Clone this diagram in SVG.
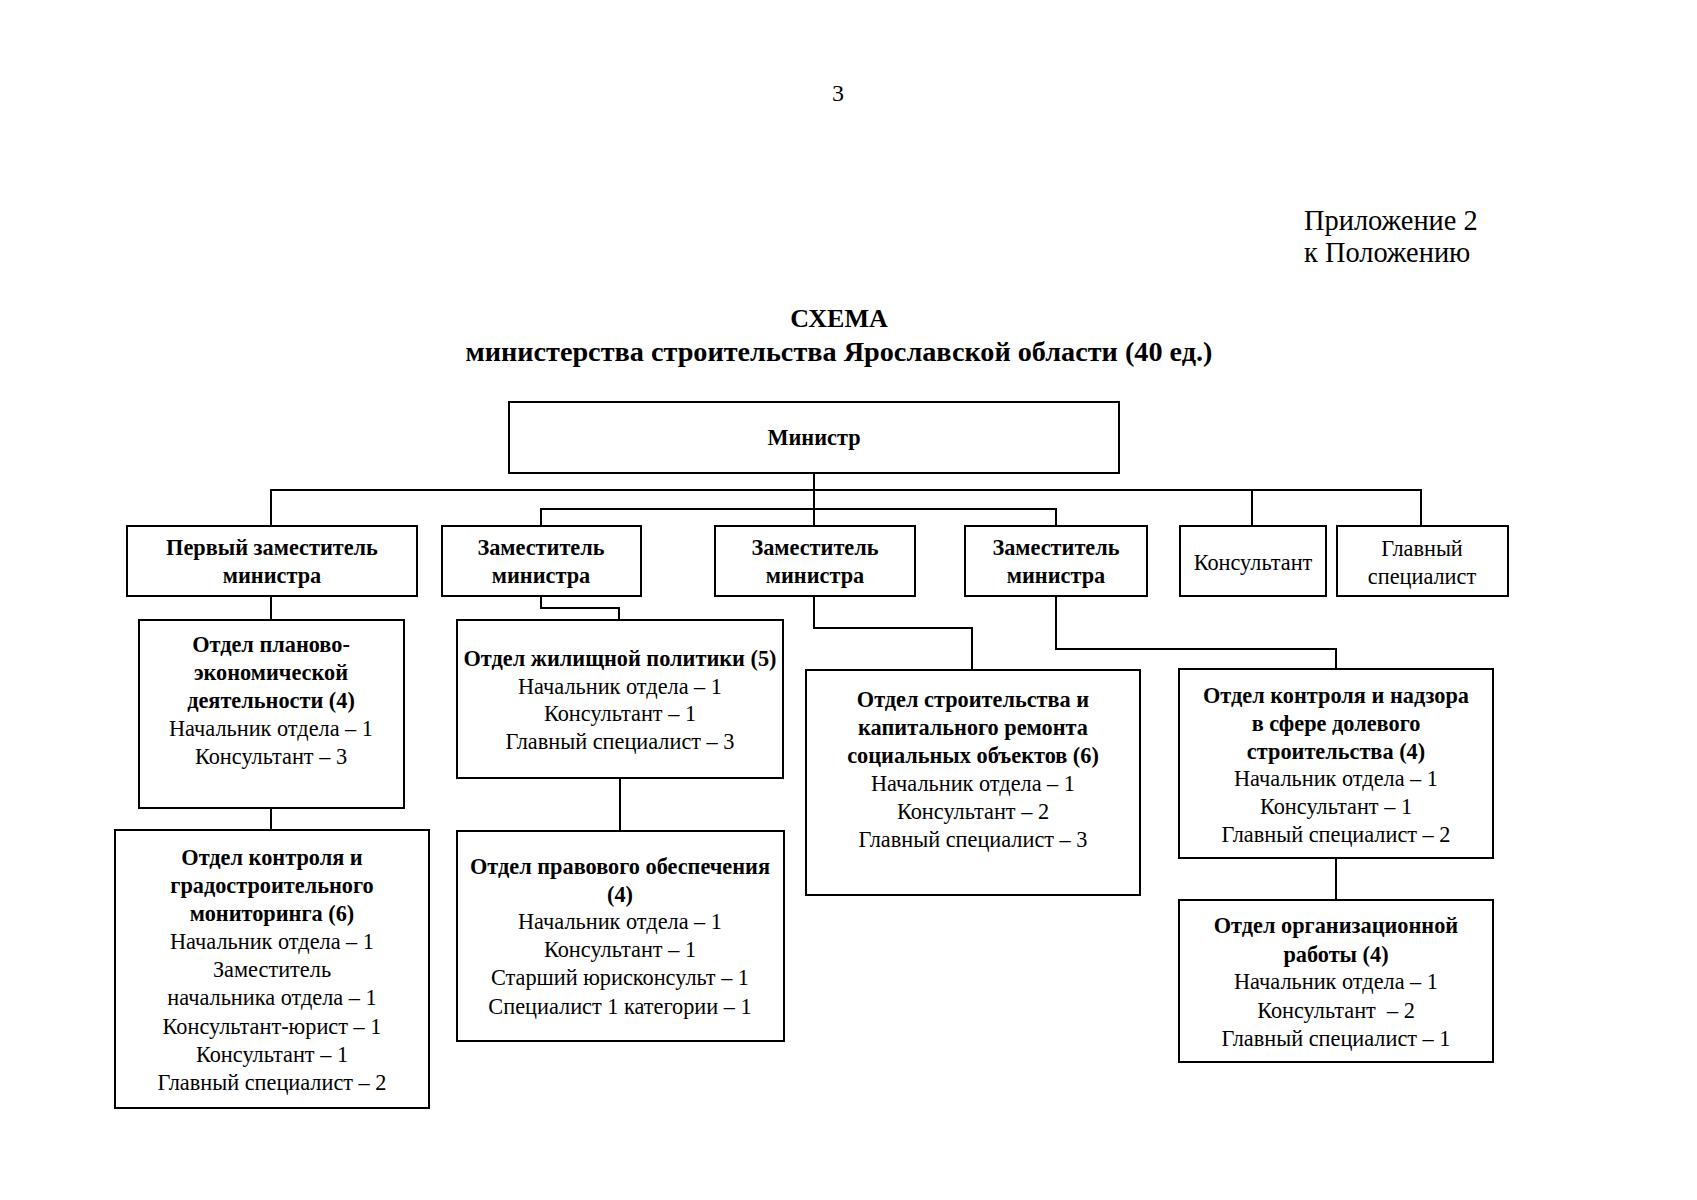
<svg xmlns="http://www.w3.org/2000/svg" width="1697" height="1200" viewBox="0 0 1697 1200">
<style>
text{font-family:"Liberation Serif","Times New Roman",serif;fill:#000;text-anchor:middle}
.b{font-weight:bold;font-size:22.3px}
.n{font-size:22.3px}
.box{fill:#fff;stroke:#000;stroke-width:2}
.ln{fill:none;stroke:#000;stroke-width:2}
</style>
<rect width="1697" height="1200" fill="#fff"/>
<text x="838" y="101" style="font-size:24px">3</text>
<text x="1304" y="230" style="font-size:28.4px;text-anchor:start">Приложение 2</text>
<text x="1304" y="262" style="font-size:28.4px;text-anchor:start">к Положению</text>
<text x="839" y="327" style="font-size:26px;font-weight:bold">СХЕМА</text>
<text x="839" y="361" style="font-size:27.5px;font-weight:bold" textLength="747" lengthAdjust="spacingAndGlyphs">министерства строительства Ярославской области (40 ед.)</text>

<g id="connectors">
<path class="ln" d="M814 473V526"/>
<path class="ln" d="M271 526V490H1421V526"/>
<path class="ln" d="M1252 490V526"/>
<path class="ln" d="M541 526V509H1056V526"/>
<path class="ln" d="M271 596V620"/>
<path class="ln" d="M541 596V608H619V620"/>
<path class="ln" d="M814 596V628H972V670"/>
<path class="ln" d="M1056 596V649H1336V669"/>
<path class="ln" d="M271 808V830"/>
<path class="ln" d="M620 778V831"/>
<path class="ln" d="M1336 858V900"/>
</g>

<g id="minister"><rect class="box" x="509" y="402" width="610" height="71"/><text class="b" x="814" y="445">Министр</text></g>

<g id="first-deputy"><rect class="box" x="127" y="526" width="290" height="70"/><text class="b" x="272" y="555">Первый заместитель</text><text class="b" x="272" y="583">министра</text></g>
<g id="deputy1"><rect class="box" x="442" y="526" width="199" height="70"/><text class="b" x="541" y="555">Заместитель</text><text class="b" x="541" y="583">министра</text></g>
<g id="deputy2"><rect class="box" x="715" y="526" width="200" height="70"/><text class="b" x="815" y="555">Заместитель</text><text class="b" x="815" y="583">министра</text></g>
<g id="deputy3"><rect class="box" x="965" y="526" width="182" height="70"/><text class="b" x="1056" y="555">Заместитель</text><text class="b" x="1056" y="583">министра</text></g>
<g id="consultant"><rect class="box" x="1180" y="526" width="146" height="70"/><text class="n" x="1253" y="570">Консультант</text></g>
<g id="chief-spec"><rect class="box" x="1337" y="526" width="171" height="70"/><text class="n" x="1422" y="556">Главный</text><text class="n" x="1422" y="584">специалист</text></g>

<g id="dept-plan"><rect class="box" x="139" y="620" width="265" height="188"/>
<text class="b" x="271" y="652">Отдел планово-</text>
<text class="b" x="271" y="680">экономической</text>
<text class="b" x="271" y="708">деятельности (4)</text>
<text class="n" x="271" y="736">Начальник отдела – 1</text>
<text class="n" x="271" y="764">Консультант – 3</text></g>

<g id="dept-housing"><rect class="box" x="457" y="620" width="326" height="158"/>
<text class="b" x="620" y="666">Отдел жилищной политики (5)</text>
<text class="n" x="620" y="694">Начальник отдела – 1</text>
<text class="n" x="620" y="721">Консультант – 1</text>
<text class="n" x="620" y="749">Главный специалист – 3</text></g>

<g id="dept-construction"><rect class="box" x="806" y="670" width="334" height="225"/>
<text class="b" x="973" y="707">Отдел строительства и</text>
<text class="b" x="973" y="735">капитального ремонта</text>
<text class="b" x="973" y="763">социальных объектов (6)</text>
<text class="n" x="973" y="791">Начальник отдела – 1</text>
<text class="n" x="973" y="819">Консультант – 2</text>
<text class="n" x="973" y="847">Главный специалист – 3</text></g>

<g id="dept-shared"><rect class="box" x="1179" y="669" width="314" height="189"/>
<text class="b" x="1336" y="703">Отдел контроля и надзора</text>
<text class="b" x="1336" y="731">в сфере долевого</text>
<text class="b" x="1336" y="759">строительства (4)</text>
<text class="n" x="1336" y="786">Начальник отдела – 1</text>
<text class="n" x="1336" y="814">Консультант – 1</text>
<text class="n" x="1336" y="842">Главный специалист – 2</text></g>

<g id="dept-urban"><rect class="box" x="115" y="830" width="314" height="278"/>
<text class="b" x="272" y="865">Отдел контроля и</text>
<text class="b" x="272" y="893">градостроительного</text>
<text class="b" x="272" y="921">мониторинга (6)</text>
<text class="n" x="272" y="949">Начальник отдела – 1</text>
<text class="n" x="272" y="977">Заместитель</text>
<text class="n" x="272" y="1005">начальника отдела – 1</text>
<text class="n" x="272" y="1034">Консультант-юрист – 1</text>
<text class="n" x="272" y="1062">Консультант – 1</text>
<text class="n" x="272" y="1090">Главный специалист – 2</text></g>

<g id="dept-legal"><rect class="box" x="457" y="831" width="327" height="210"/>
<text class="b" x="620" y="874">Отдел правового обеспечения</text>
<text class="b" x="620" y="902">(4)</text>
<text class="n" x="620" y="929">Начальник отдела – 1</text>
<text class="n" x="620" y="957">Консультант – 1</text>
<text class="n" x="620" y="985">Старший юрисконсульт – 1</text>
<text class="n" x="620" y="1014">Специалист 1 категории – 1</text></g>

<g id="dept-org"><rect class="box" x="1179" y="900" width="314" height="162"/>
<text class="b" x="1336" y="933">Отдел организационной</text>
<text class="b" x="1336" y="962">работы (4)</text>
<text class="n" x="1336" y="989">Начальник отдела – 1</text>
<text class="n" x="1336" y="1018" style="white-space:pre">Консультант  – 2</text>
<text class="n" x="1336" y="1046">Главный специалист – 1</text></g>
</svg>
